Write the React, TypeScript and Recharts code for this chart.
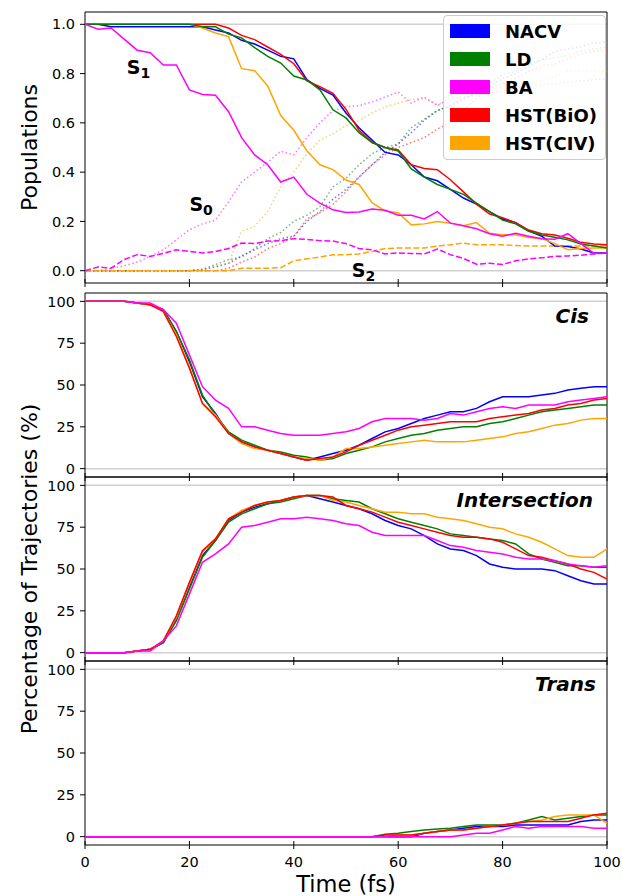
import React from "react";
import { LineChart, Line, XAxis, YAxis, CartesianGrid, ReferenceArea, ReferenceDot, Legend } from "recharts";

const FONT = '"DejaVu Sans", Verdana, sans-serif';
const W = 623;
const TICK_FONT = 14.5;
const X_TICK_SIZE = 4;
const X_TICK_MARGIN = 0;

// time grid (fs)
const time = [
  0, 2.5, 5, 7.5, 10, 12.5, 15, 17.5, 20, 22.5, 25, 27.5, 30, 32.5, 35, 37.5, 40, 42.5, 45, 47.5, 50,
  52.5, 55, 57.5, 60, 62.5, 65, 67.5, 70, 72.5, 75, 77.5, 80, 82.5, 85, 87.5, 90, 92.5, 95, 97.5, 100,
];
const xTicks = [0, 20, 40, 60, 80, 100];
const popTicks = [0, 0.2, 0.4, 0.6, 0.8, 1.0];
const pctTicks = [0, 25, 50, 75, 100];

const methods = [
  { key: "nacv", name: "NACV", color: "#0000ff" },
  { key: "ld", name: "LD", color: "#008000" },
  { key: "ba", name: "BA", color: "#ff00ff" },
  { key: "bio", name: "HST(BiO)", color: "#ff0000" },
  { key: "civ", name: "HST(CIV)", color: "#ffa500" },
];

// S1 populations (solid)
const s1Nacv = [1.0, 1.0, 0.99, 0.99, 0.99, 0.99, 0.99, 0.99, 0.99, 0.99, 0.977, 0.965, 0.935, 0.92, 0.895, 0.87, 0.86, 0.775, 0.74, 0.713, 0.64, 0.58, 0.53, 0.48, 0.47, 0.43, 0.38, 0.365, 0.33, 0.295, 0.27, 0.24, 0.21, 0.195, 0.162, 0.14, 0.1, 0.098, 0.088, 0.072, 0.072];
const s1Ld = [1, 1, 1, 1, 1, 1, 1, 1, 1, 0.99, 0.99, 0.96, 0.945, 0.905, 0.87, 0.843, 0.79, 0.774, 0.734, 0.653, 0.62, 0.56, 0.52, 0.5, 0.486, 0.413, 0.38, 0.35, 0.33, 0.31, 0.274, 0.24, 0.205, 0.19, 0.16, 0.145, 0.136, 0.125, 0.108, 0.1, 0.092];
const s1Ba = [1.0, 0.98, 0.985, 0.94, 0.895, 0.885, 0.835, 0.835, 0.734, 0.715, 0.712, 0.645, 0.54, 0.47, 0.43, 0.36, 0.38, 0.31, 0.274, 0.247, 0.236, 0.238, 0.25, 0.245, 0.225, 0.225, 0.21, 0.24, 0.193, 0.182, 0.17, 0.15, 0.14, 0.152, 0.14, 0.13, 0.128, 0.15, 0.11, 0.07, 0.072];
const s1Bio = [1, 1, 1, 1, 1, 1, 1, 1, 1, 1, 1, 0.985, 0.955, 0.938, 0.908, 0.878, 0.84, 0.77, 0.747, 0.72, 0.655, 0.57, 0.52, 0.5, 0.49, 0.43, 0.415, 0.41, 0.369, 0.32, 0.27, 0.23, 0.215, 0.195, 0.165, 0.15, 0.145, 0.132, 0.115, 0.108, 0.105];
const s1Civ = [1, 1, 1, 1, 1, 1, 1, 1, 1, 0.985, 0.965, 0.95, 0.82, 0.812, 0.75, 0.63, 0.57, 0.487, 0.43, 0.41, 0.368, 0.35, 0.276, 0.242, 0.235, 0.186, 0.19, 0.2, 0.193, 0.182, 0.195, 0.152, 0.146, 0.146, 0.135, 0.13, 0.11, 0.085, 0.09, 0.092, 0.092];

// S0 populations (dotted)
const s0Nacv = [0, 0, 0, 0, 0, 0, 0, 0, 0, 0.005, 0.015, 0.03, 0.06, 0.085, 0.11, 0.13, 0.14, 0.2, 0.24, 0.29, 0.33, 0.38, 0.43, 0.48, 0.515, 0.56, 0.61, 0.65, 0.67, 0.7, 0.72, 0.75, 0.78, 0.8, 0.83, 0.855, 0.89, 0.9, 0.91, 0.925, 0.928];
const s0Ld = [0, 0, 0, 0, 0, 0, 0, 0, 0, 0.005, 0.025, 0.045, 0.055, 0.09, 0.13, 0.155, 0.2, 0.225, 0.26, 0.34, 0.375, 0.43, 0.475, 0.5, 0.515, 0.58, 0.615, 0.65, 0.67, 0.69, 0.725, 0.76, 0.795, 0.81, 0.84, 0.855, 0.864, 0.875, 0.892, 0.9, 0.908];
const s0Ba = [0, 0, 0.01, 0.02, 0.035, 0.058, 0.085, 0.125, 0.166, 0.19, 0.205, 0.28, 0.36, 0.4, 0.44, 0.485, 0.47, 0.54, 0.6, 0.65, 0.665, 0.67, 0.685, 0.705, 0.725, 0.68, 0.705, 0.67, 0.7, 0.705, 0.71, 0.72, 0.73, 0.74, 0.75, 0.755, 0.76, 0.765, 0.77, 0.775, 0.78];
const s0Bio = [0, 0, 0, 0, 0, 0, 0, 0, 0, 0, 0, 0.01, 0.035, 0.055, 0.09, 0.11, 0.14, 0.21, 0.235, 0.27, 0.32, 0.38, 0.43, 0.47, 0.5, 0.52, 0.54, 0.575, 0.6, 0.65, 0.7, 0.74, 0.76, 0.78, 0.81, 0.83, 0.84, 0.86, 0.88, 0.89, 0.895];
const s0Civ = [0, 0, 0, 0, 0, 0, 0, 0, 0, 0.005, 0.02, 0.03, 0.16, 0.18, 0.24, 0.34, 0.4, 0.475, 0.53, 0.555, 0.59, 0.61, 0.64, 0.665, 0.68, 0.695, 0.7, 0.675, 0.69, 0.7, 0.71, 0.74, 0.75, 0.75, 0.76, 0.77, 0.79, 0.81, 0.81, 0.81, 0.81];

// S2 populations (dashed)
const s2Ba = [0, 0.015, 0.01, 0.045, 0.065, 0.058, 0.07, 0.085, 0.078, 0.072, 0.078, 0.09, 0.112, 0.11, 0.12, 0.122, 0.13, 0.127, 0.122, 0.12, 0.11, 0.09, 0.085, 0.068, 0.072, 0.07, 0.068, 0.088, 0.065, 0.05, 0.026, 0.03, 0.025, 0.04, 0.048, 0.052, 0.058, 0.06, 0.063, 0.068, 0.072];
const s2Civ = [0, 0, 0, 0, 0, 0, 0, 0, 0, 0, 0, 0, 0.01, 0.01, 0.01, 0.012, 0.04, 0.048, 0.055, 0.065, 0.065, 0.068, 0.078, 0.09, 0.092, 0.092, 0.092, 0.1, 0.105, 0.112, 0.105, 0.105, 0.105, 0.102, 0.1, 0.1, 0.1, 0.1, 0.1, 0.1, 0.1];

// Cis (%)
const cisNacv = [100, 100, 100, 100, 99, 98, 95, 82, 64, 43, 33, 21, 16, 13, 11, 9, 7, 5, 7, 9, 11, 14, 18, 22, 24, 27, 30, 32, 34, 34, 36, 40, 43, 43, 43, 44, 45, 47, 48, 49, 49];
const cisLd = [100, 100, 100, 100, 99, 98, 95, 82, 65, 44, 32, 22, 17, 14, 11, 10, 8, 7, 5, 6, 9, 11, 13, 16, 18, 20, 21, 23, 24, 25, 25, 27, 28, 30, 32, 34, 35, 36, 37, 38, 38];
const cisBa = [100, 100, 100, 100, 99, 99, 95, 87, 68, 49, 41, 36, 25, 25, 23, 21, 20, 20, 20, 21, 22, 24, 28, 30, 30, 30, 29, 30, 33, 32, 34, 36, 37, 36, 38, 38, 38, 40, 41, 42, 43];
const cisBio = [100, 100, 100, 100, 99, 98, 94, 79, 60, 39, 31, 21, 16, 13, 11, 9, 7, 5, 6, 7, 10, 14, 17, 20, 23, 25, 26, 27, 28, 28, 28, 30, 31, 32, 33, 35, 36, 38, 39, 41, 42];
const cisCiv = [100, 100, 100, 100, 99, 98, 94, 80, 61, 39, 32, 21, 15, 12, 11, 9, 7, 6, 5, 7, 12, 12, 13, 14, 15, 16, 17, 16, 16, 16, 17, 18, 19, 21, 22, 24, 26, 27, 29, 30, 30];

// Intersection (%)
const intNacv = [0, 0, 0, 0, 1, 2, 6, 20, 39, 58, 67, 79, 84, 87, 89, 91, 93, 94, 92, 90, 88, 86, 83, 79, 76, 74, 70, 65, 62, 61, 58, 53, 51, 50, 50, 50, 49, 46, 43, 41, 41];
const intLd = [0, 0, 0, 0, 1, 2, 6, 19, 38, 57, 67, 78, 83, 86, 89, 90, 92, 94, 94, 92, 91, 90, 86, 83, 80, 78, 76, 74, 71, 70, 69, 68, 67, 65, 59, 56, 54, 52, 52, 51, 51];
const intBa = [0, 0, 0, 0, 1, 1, 7, 16, 35, 54, 59, 65, 75, 76, 78, 80, 80, 81, 80, 79, 77, 76, 72, 70, 70, 70, 70, 67, 64, 63, 61, 60, 59, 57, 56, 56, 55, 53, 52, 51, 52];
const intBio = [0, 0, 0, 0, 1, 2, 7, 22, 42, 61, 68, 80, 84, 88, 90, 91, 93, 94, 94, 93, 88, 86, 84, 81, 78, 76, 74, 72, 70, 69, 69, 68, 66, 62, 58, 57, 55, 53, 50, 48, 44];
const intCiv = [0, 0, 0, 0, 1, 2, 7, 21, 41, 60, 68, 80, 85, 88, 90, 91, 93, 94, 94, 91, 90, 88, 86, 84, 84, 83, 83, 81, 80, 79, 77, 75, 74, 71, 69, 66, 62, 58, 57, 57, 62];

// Trans (%)
const transNacv = [0, 0, 0, 0, 0, 0, 0, 0, 0, 0, 0, 0, 0, 0, 0, 0, 0, 0, 0, 0, 0, 0, 0, 0, 0, 0, 2, 3, 4, 5, 6, 6, 6, 7, 7, 7, 7, 7, 9, 10, 10];
const transLd = [0, 0, 0, 0, 0, 0, 0, 0, 0, 0, 0, 0, 0, 0, 0, 0, 0, 0, 0, 0, 0, 0, 0, 1.5, 2, 3, 4, 4.5, 5, 6, 7, 7, 7, 8, 10, 12, 10, 11, 12, 13, 13];
const transBa = [0, 0, 0, 0, 0, 0, 0, 0, 0, 0, 0, 0, 0, 0, 0, 0, 0, 0, 0, 0, 0, 0, 0, 0, 0, 0, 0, 0, 0, 1, 2, 2, 4, 6, 5, 6, 6, 6, 6, 5, 5];
const transBio = [0, 0, 0, 0, 0, 0, 0, 0, 0, 0, 0, 0, 0, 0, 0, 0, 0, 0, 0, 0, 0, 0, 0, 1, 1, 1, 2, 3, 4, 4, 5, 6, 7, 8, 9, 9, 9, 9, 11, 13, 14];
const transCiv = [0, 0, 0, 0, 0, 0, 0, 0, 0, 0, 0, 0, 0, 0, 0, 0, 0, 0, 0, 0, 0, 0, 0, 0, 1, 1, 2, 3, 4, 4, 5, 6, 7, 8, 9, 10, 12, 13, 13, 13, 8];

function rows(series: Record<string, number[]>) {
  return time.map((t, i) => {
    const r: Record<string, number> = { t };
    for (const k of Object.keys(series)) r[k] = series[k][i];
    return r;
  });
}

const popData = rows({
  s1_nacv: s1Nacv, s1_ld: s1Ld, s1_ba: s1Ba, s1_bio: s1Bio, s1_civ: s1Civ,
  s0_nacv: s0Nacv, s0_ld: s0Ld, s0_ba: s0Ba, s0_bio: s0Bio, s0_civ: s0Civ,
  s2_ba: s2Ba, s2_civ: s2Civ,
});
const cisData = rows({ nacv: cisNacv, ld: cisLd, ba: cisBa, bio: cisBio, civ: cisCiv });
const intData = rows({ nacv: intNacv, ld: intLd, ba: intBa, bio: intBio, civ: intCiv });
const transData = rows({ nacv: transNacv, ld: transLd, ba: transBa, bio: transBio, civ: transCiv });

const color = (k: string) => methods.find((m) => m.key === k)!.color;

function XTick(props: any) {
  const { x, y, payload, showLabel } = props;
  const axisY = y - X_TICK_SIZE - X_TICK_MARGIN;
  return (
    <g>
      <line x1={x} x2={x} y1={axisY - 4} y2={axisY + 4} stroke="#000" strokeWidth={1} />
      {showLabel && (
        <text x={x} y={axisY + 21.5} textAnchor="middle" fontSize={TICK_FONT} fill="#000" fontFamily={FONT}>
          {payload.value}
        </text>
      )}
    </g>
  );
}

const yLabel = (text: string) => (props: any) => {
  const vb = props.viewBox || { y: 0, height: 0 };
  const cy = vb.y + vb.height / 2;
  return (
    <text x={37} y={cy} transform={`rotate(-90, 37, ${cy})`} textAnchor="middle" fontSize={22} fill="#000" fontFamily={FONT}>
      {text}
    </text>
  );
};

const timeLabel = (props: any) => {
  const vb = props.viewBox || { x: 0, y: 0, width: 0 };
  return (
    <text x={vb.x + vb.width / 2} y={vb.y + 46.5} textAnchor="middle" fontSize={22.5} fill="#000" fontFamily={FONT}>
      Time (fs)
    </text>
  );
};

const stateLabel = (sub: string) => (props: any) => {
  const vb = props.viewBox || { x: 0, y: 0 };
  return (
    <text x={vb.x} y={vb.y} fontFamily={FONT} fontWeight="bold" fontSize={19} fill="#000">
      <tspan>S</tspan>
      <tspan fontSize={14} dy={4}>{sub}</tspan>
    </text>
  );
};

const panelLabel = (text: string, dx: number) => (props: any) => {
  const vb = props.viewBox || { x: 0, y: 0 };
  return (
    <text x={vb.x - dx} y={vb.y + 30} textAnchor="end" fontFamily={FONT} fontWeight="bold" fontStyle="italic" fontSize={20} fill="#000">
      {text}
    </text>
  );
};

function LegendBox() {
  return (
    <div
      style={{
        boxSizing: "border-box",
        width: 163,
        height: 145,
        background: "rgba(255,255,255,0.8)",
        border: "1px solid #cccccc",
        borderRadius: 4,
        paddingTop: 1,
        paddingLeft: 6,
        fontFamily: FONT,
        fontWeight: "bold",
        fontSize: 18,
        color: "#000",
      }}
    >
      {methods.map((m) => (
        <div key={m.key} style={{ display: "flex", alignItems: "center", height: 28 }}>
          <span style={{ display: "inline-block", width: 40, height: 14, background: m.color, marginRight: 15 }} />
          <span>{m.name}</span>
        </div>
      ))}
    </div>
  );
}

const xAxis = (showLabel: boolean, height: number) => (
  <XAxis
    dataKey="t"
    type="number"
    domain={[0, 100]}
    ticks={xTicks}
    interval={0}
    allowDataOverflow
    height={height}
    axisLine={false}
    tickLine={false}
    tickSize={X_TICK_SIZE}
    tickMargin={X_TICK_MARGIN}
    tick={(p: any) => <XTick {...p} showLabel={showLabel} />}
    label={showLabel ? timeLabel : undefined}
  />
);

const pctYAxis = (label?: string) => (
  <YAxis
    type="number"
    domain={[-5, 105]}
    ticks={pctTicks}
    interval={0}
    allowDataOverflow
    width={85}
    axisLine={false}
    tickSize={5}
    tickMargin={5}
    tickLine={{ stroke: "#000" }}
    tick={{ fontSize: TICK_FONT, fill: "#000", fontFamily: FONT }}
    label={label ? yLabel(label) : undefined}
  />
);

const pctLines = ["nacv", "ld", "civ", "bio", "ba"].map((k) => (
  <Line key={k} dataKey={k} type="linear" stroke={color(k)} strokeWidth={1.5} dot={false} activeDot={false} isAnimationActive={false} />
));

function PctPanel({ data, top, height, xHeight, showX, label, yTitle, dx }: any) {
  return (
    <div style={{ position: "absolute", left: 0, top }}>
      <LineChart width={W} height={height} data={data} margin={{ top: 8, right: 16, bottom: 0, left: 0 }}>
        <CartesianGrid vertical={false} horizontalValues={[0, 100]} stroke="#d0d0d0" strokeWidth={1.5} />
        {xAxis(showX, xHeight)}
        {pctYAxis(yTitle)}
        {pctLines}
        <ReferenceArea x1={0} x2={100} y1={-5} y2={105} fill="none" stroke="#000" strokeWidth={1} ifOverflow="visible" />
        <ReferenceDot x={100} y={105} r={0} fill="none" stroke="none" ifOverflow="visible" label={panelLabel(label, dx)} />
      </LineChart>
    </div>
  );
}

export default function App() {
  const s0Order = ["nacv", "ld", "bio", "civ", "ba"];
  const s1Order = ["nacv", "bio", "civ", "ld", "ba"];
  return (
    <div style={{ position: "absolute", left: 0, top: 0, width: W, height: 896, background: "#fff", fontFamily: FONT }}>
      <style>{`.recharts-surface{overflow:visible}`}</style>
      <div style={{ position: "absolute", left: 0, top: 0 }}>
        <LineChart width={W} height={295} data={popData} margin={{ top: 12, right: 16, bottom: 0, left: 0 }}>
          <CartesianGrid vertical={false} horizontalValues={[0, 1]} stroke="#d0d0d0" strokeWidth={1.5} />
          {xAxis(false, 12)}
          <YAxis
            type="number"
            domain={[-0.05, 1.05]}
            ticks={popTicks}
            interval={0}
            allowDataOverflow
            width={85}
            axisLine={false}
            tickSize={5}
            tickMargin={5}
            tickLine={{ stroke: "#000" }}
            tickFormatter={(v: number) => v.toFixed(1)}
            tick={{ fontSize: TICK_FONT, fill: "#000", fontFamily: FONT }}
            label={yLabel("Populations")}
          />
          {s0Order.map((k) => (
            <Line key={"s0" + k} dataKey={"s0_" + k} type="linear" stroke={color(k)} strokeWidth={1.5} strokeOpacity={0.55} strokeDasharray="1.5 2.5" dot={false} activeDot={false} isAnimationActive={false} />
          ))}
          {["civ", "ba"].map((k) => (
            <Line key={"s2" + k} dataKey={"s2_" + k} type="linear" stroke={color(k)} strokeWidth={1.5} strokeDasharray="6 2.5" dot={false} activeDot={false} isAnimationActive={false} />
          ))}
          {s1Order.map((k) => (
            <Line key={"s1" + k} dataKey={"s1_" + k} type="linear" stroke={color(k)} strokeWidth={1.5} dot={false} activeDot={false} isAnimationActive={false} />
          ))}
          <ReferenceArea x1={0} x2={100} y1={-0.05} y2={1.05} fill="none" stroke="#000" strokeWidth={1} ifOverflow="visible" />
          <ReferenceDot x={8.0} y={0.8} r={0} fill="none" stroke="none" ifOverflow="visible" label={stateLabel("1")} />
          <ReferenceDot x={20.0} y={0.243} r={0} fill="none" stroke="none" ifOverflow="visible" label={stateLabel("0")} />
          <ReferenceDot x={51.1} y={-0.024} r={0} fill="none" stroke="none" ifOverflow="visible" label={stateLabel("2")} />
          <Legend
            layout="horizontal"
            verticalAlign="middle"
            align="center"
            content={() => <LegendBox />}
            wrapperStyle={{ position: "absolute", left: 443, top: 15, width: 163, height: 145 }}
          />
        </LineChart>
      </div>
      <PctPanel data={cisData} top={285} height={200} xHeight={8} showX={false} label="Cis" dx={18} />
      <PctPanel data={intData} top={469} height={200} xHeight={8} showX={false} label="Intersection" dx={14} yTitle="Percentage of Trajectories (%)" />
      <PctPanel data={transData} top={653} height={243} xHeight={51} showX={true} label="Trans" dx={11} />
    </div>
  );
}
